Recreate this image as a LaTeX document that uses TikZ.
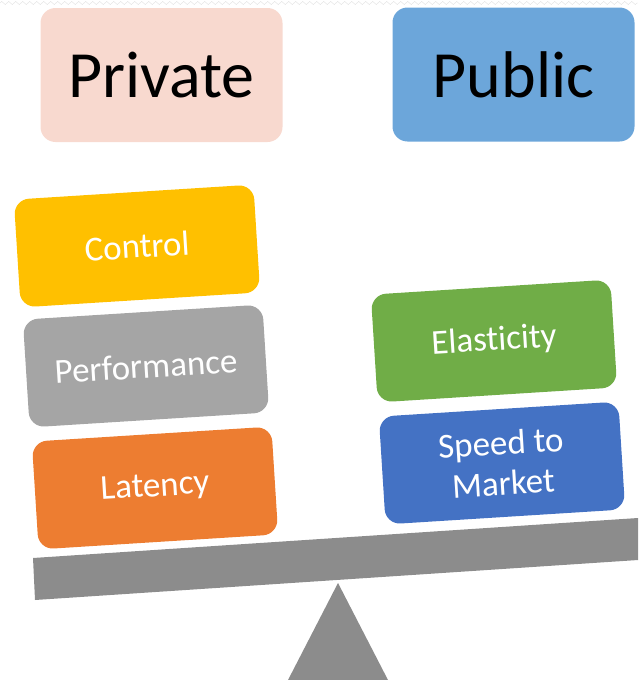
\documentclass[tikz,border=0pt]{standalone}
\usepackage{fontspec}
\setmainfont{Carlito}[Ligatures=NoCommon]
\usepackage{xcolor}
\usetikzlibrary{decorations.pathmorphing}

\definecolor{privcol}{HTML}{F8D9CF}
\definecolor{pubcol}{HTML}{6CA6DA}
\definecolor{ctrlcol}{HTML}{FFC000}
\definecolor{perfcol}{HTML}{A5A5A5}
\definecolor{latcol}{HTML}{ED7D31}
\definecolor{elascol}{HTML}{70AD47}
\definecolor{speedcol}{HTML}{4472C4}
\definecolor{beamcol}{HTML}{8C8C8C}

\begin{document}
\begin{tikzpicture}[x=1pt, y=-1pt,
    head/.style={rounded corners=15pt, minimum width=242pt, minimum height=134pt,
      inner sep=0pt, font=\fontsize{66}{70}\selectfont},
    pill/.style={rounded corners=15pt, minimum width=240pt, minimum height=108pt,
      inner sep=0pt, text=white, rotate=3.6, align=center,
      font=\fontsize{35}{40}\selectfont}]
    \useasboundingbox (0, 0) rectangle (638, 680);
    \draw[black!12, decorate, decoration={zigzag, amplitude=1.5pt, segment length=7pt}] (0, 3) -- (638, 3);
    \node[head, fill=privcol] (private) at (161.5, 75) {Private};
    \node[head, fill=pubcol] (public) at (513.5, 74.5) {Public};
    \node[pill, fill=ctrlcol] (control) at (137, 246) {Control};
    \node[pill, fill=perfcol] (perf) at (146, 366) {Performance};
    \node[pill, fill=latcol] (latency) at (155, 488) {Latency};
    \node[pill, fill=elascol] (elastic) at (494, 341) {Elasticity};
    \node[pill, fill=speedcol] (speed) at (502, 463) {Speed to\\Market};
    \fill[beamcol] (33, 558) -- (638, 518) -- (638, 560) -- (35, 600) -- cycle;
    \fill[beamcol] (338, 583) -- (388, 680) -- (288, 680) -- cycle;
  \end{tikzpicture}
\end{document}
